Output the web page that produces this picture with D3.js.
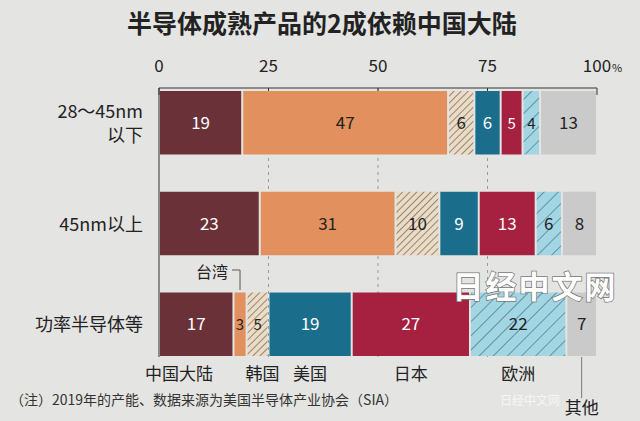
<!DOCTYPE html>
<html><head><meta charset="utf-8">
<script src="https://cdn.jsdelivr.net/npm/d3@7"></script>
<style>body{margin:0;background:#e4e4e2}</style></head>
<body><svg id="c" width="640" height="421"></svg>
<script>
const regions = ["中国大陆","台湾","韩国","美国","日本","欧洲","其他"];
const rows = ["28～45nm\n以下","45nm以上","功率半导体等"];
const row1 = [19,47,6,6,5,4,13];
const row2 = [23,31,10,9,13,6,8];
const row3 = [17,3,5,19,27,22,7];
const ticks = [0,25,50,75,100];
const values = [row1,row2,row3];
const colors = ["#6a3238","#e2915e","#eadcc6","#1b6d8c","#a6203f","#a3d6e2","#cacaca"];
const textCol = ["#fff","#222","#222","#fff","#fff","#222","#222"];
const F = "'Noto Sans CJK SC',sans-serif";
const svg = d3.select("#c");
svg.append("rect").attr("width",640).attr("height",421).attr("fill","#e4e4e2");
const defs = svg.append("defs");
function hatch(id,bg,line,sz){const p=defs.append("pattern").attr("id",id).attr("patternUnits","userSpaceOnUse").attr("width",sz).attr("height",sz).attr("patternTransform","rotate(45)");
p.append("rect").attr("width",sz).attr("height",sz).attr("fill",bg);
p.append("line").attr("x1",0).attr("y1",0).attr("x2",0).attr("y2",sz).attr("stroke",line).attr("stroke-width",1.2);}
hatch("hk","#eadcc6","#5a4a3a",5);hatch("he","#a3d6e2","#2a6a80",10);
const fills = colors.map((c,i)=>i===2?"url(#hk)":i===5?"url(#he)":c);

const x = d3.scaleLinear().domain([0,100]).range([159,597]);
const y = d3.scaleBand().domain(d3.range(3)).range([90,357]).paddingInner(0.37).paddingOuter(0.01);

svg.append("text").attr("x",322).attr("y",33).attr("text-anchor","middle").attr("font-family",F).attr("font-size",25).attr("font-weight","bold").attr("fill","#222").text("半导体成熟产品的2成依赖中国大陆");

ticks.slice(1,4).forEach(t=>svg.append("line").attr("x1",x(t)).attr("x2",x(t)).attr("y1",88).attr("y2",357).attr("stroke","#999").attr("stroke-dasharray","3,4"));
svg.append("line").attr("x1",x(0)).attr("x2",x(100)).attr("y1",88).attr("y2",88).attr("stroke","#333");
svg.append("line").attr("x1",x(0)).attr("x2",x(0)).attr("y1",88).attr("y2",357).attr("stroke","#333");
ticks.forEach(t=>{svg.append("line").attr("x1",x(t)).attr("x2",x(t)).attr("y1",88).attr("y2",95).attr("stroke","#333");
svg.append("text").attr("x",x(t)).attr("y",72).attr("text-anchor","middle").attr("font-family",F).attr("font-size",17).attr("fill","#222").text(t);});
svg.append("text").attr("x",612).attr("y",72).attr("font-family",F).attr("font-size",11).attr("fill","#222").text("%");

values.forEach((vals,r)=>{let acc=0;
 vals.forEach((v,i)=>{const x0=x(acc),x1=x(acc+v);acc+=v;
  svg.append("rect").attr("x",x0+1).attr("y",y(r)).attr("width",Math.max(0,x1-x0-2)).attr("height",y.bandwidth()).attr("fill",fills[i]);
  svg.append("text").attr("x",(x0+x1)/2).attr("y",y(r)+y.bandwidth()/2+6).attr("text-anchor","middle").attr("font-family",F).attr("font-size",v<6?15:17).attr("fill",textCol[i]).text(v);
 });
 const lines=rows[r].split("\n");
 lines.forEach((l,k)=>svg.append("text").attr("x",143).attr("y",y(r)+y.bandwidth()/2+7+(k-(lines.length-1)/2)*24).attr("text-anchor","end").attr("font-family",F).attr("font-size",18).attr("fill","#222").text(l));
});

const r3=row3; const cum=d3.cumsum(r3); const mid=i=>x(cum[i]-r3[i]/2);
const lab=[[0,x(0)+20],[2,mid(2)+5],[3,mid(3)],[4,mid(4)],[5,mid(5)]];
lab.forEach(([i,px])=>svg.append("text").attr("x",px).attr("y",380).attr("text-anchor","middle").attr("font-family",F).attr("font-size",17).attr("fill","#222").text(regions[i]));
svg.append("text").attr("x",212).attr("y",278).attr("text-anchor","middle").attr("font-family",F).attr("font-size",16).attr("fill","#222").text(regions[1]);
svg.append("path").attr("d",`M232,270 H${mid(1)} V290`).attr("fill","none").attr("stroke","#555");
svg.append("line").attr("x1",mid(6)).attr("x2",mid(6)).attr("y1",357).attr("y2",398).attr("stroke","#777");
svg.append("text").attr("x",mid(6)).attr("y",414).attr("text-anchor","middle").attr("font-family",F).attr("font-size",17).attr("fill","#222").text(regions[6]);

svg.append("text").attr("x",10).attr("y",405).attr("font-family",F).attr("font-size",14).attr("fill","#333").text("（注）2019年的产能、数据来源为美国半导体产业协会（SIA）");
svg.append("text").attr("x",535).attr("y",298).attr("text-anchor","middle").attr("font-family",F).attr("font-size",31).attr("font-weight","bold").attr("fill","#fff").attr("stroke","#777").attr("stroke-width",1.5).attr("paint-order","stroke").attr("letter-spacing",2).text("日经中文网");
svg.append("text").attr("x",560).attr("y",405).attr("text-anchor","end").attr("font-family",F).attr("font-size",12).attr("fill","#fff").attr("opacity",0.7).text("日经中文网");
</script></body></html>
